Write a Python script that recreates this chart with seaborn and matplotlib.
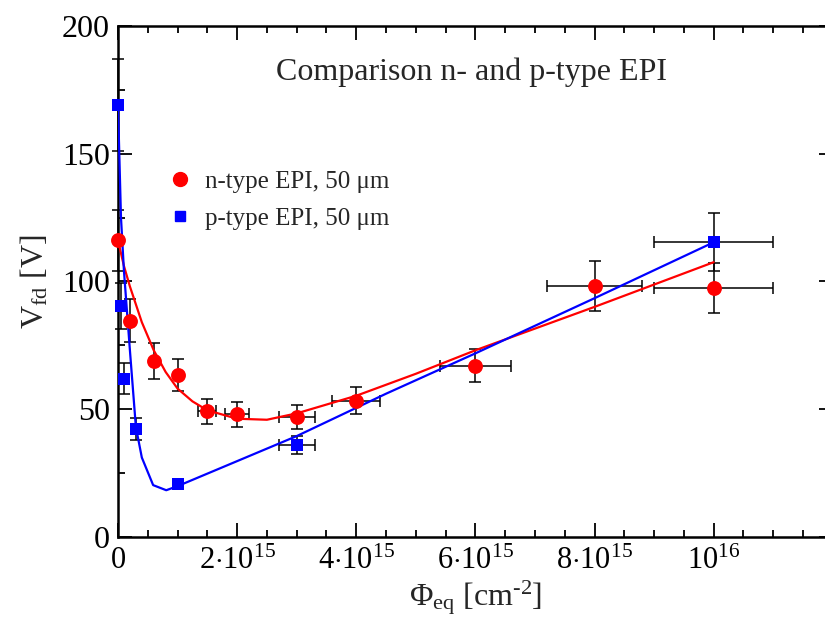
import numpy as np
import pandas as pd
import matplotlib
matplotlib.use("Agg")
import matplotlib.pyplot as plt
from matplotlib.lines import Line2D
from matplotlib.ticker import MultipleLocator, FixedLocator
import seaborn as sns

# ---------------- data (x in units of 1e15 cm^-2) ----------------
n_x = [0, 0.2, 0.6, 1.0, 1.5, 2.0, 3.0, 4.0, 6.0, 8.0, 10.0]
n_y = [116, 84.6, 68.8, 63.3, 49.2, 47.9, 46.8, 53.3, 67.0, 98.2, 97.3]
n_yerr = [12, 8.5, 7.0, 6.2, 4.9, 4.8, 4.7, 5.4, 6.6, 9.8, 9.8]
n_xerr = [0, 0, 0, 0, 0.15, 0.2, 0.3, 0.4, 0.6, 0.8, 1.0]

p_x = [0, 0.05, 0.1, 0.3, 1.0, 3.0, 10.0]
p_y = [169, 90.5, 61.9, 42.0, 20.6, 35.9, 115.3]
p_yerr = [18, 9.0, 6.1, 4.3, 1.5, 3.6, 11.4]
p_xerr = [0, 0, 0, 0, 0, 0.3, 1.0]

n_fit_x = [0, 0.1, 0.2, 0.4, 0.6, 0.8, 1.0, 1.25, 1.5, 2.0, 2.5, 3.0, 4.0, 5.0, 6.0, 8.0, 10.0]
n_fit_y = [116, 106, 98, 84, 73, 64.5, 58, 53, 49.5, 46.2, 45.8, 48.3, 55.2, 63.8, 73.0, 90.0, 107.5]

p_fit_x = [0, 0.05, 0.1, 0.2, 0.3, 0.4, 0.59, 0.81, 1.0, 3.0, 4.5, 6.0, 8.0, 10.0]
p_fit_y = [169, 125, 104, 73, 43, 31, 20.2, 18.2, 19.8, 39.4, 56.0, 71.8, 93.4, 115.3]

x_ticks = [0, 2, 4, 6, 8, 10]
x_ticklabels = ["0", r"$2{\cdot}10^{15}$", r"$4{\cdot}10^{15}$", r"$6{\cdot}10^{15}$",
                r"$8{\cdot}10^{15}$", r"$10^{16}$"]
y_ticks = [0, 50, 100, 150, 200]

title = "Comparison n- and p-type EPI"
label_n = "n-type EPI, 50 μm"
label_p = "p-type EPI, 50 μm"
SCALE = 1e15

# ---------------- style ----------------
sns.set_style("ticks")
plt.rcParams["font.family"] = ["Liberation Serif", "DejaVu Serif"]
plt.rcParams["mathtext.fontset"] = "custom"
plt.rcParams["mathtext.rm"] = "Liberation Serif"
plt.rcParams["mathtext.it"] = "Liberation Serif:italic"
plt.rcParams["mathtext.bf"] = "Liberation Serif:bold"

fig = plt.figure(figsize=(8.25, 6.19), dpi=100)
W, H = 825, 619
ax = fig.add_axes([118 / W, 82.3 / H, (832.8 - 118) / W, 510.7 / H])

df_n = pd.DataFrame({"x": np.array(n_x) * SCALE, "y": n_y})
df_p = pd.DataFrame({"x": np.array(p_x) * SCALE, "y": p_y})
fit_n = pd.DataFrame({"x": np.array(n_fit_x) * SCALE, "y": n_fit_y})
fit_p = pd.DataFrame({"x": np.array(p_fit_x) * SCALE, "y": p_fit_y})

# error bars
ax.errorbar(df_n["x"], df_n["y"], yerr=n_yerr, xerr=np.array(n_xerr) * SCALE,
            fmt="none", ecolor="black", elinewidth=1.1, capsize=4, capthick=1.1,
            zorder=2, clip_on=False)
ax.errorbar(df_p["x"], df_p["y"], yerr=p_yerr, xerr=np.array(p_xerr) * SCALE,
            fmt="none", ecolor="black", elinewidth=1.1, capsize=4, capthick=1.1,
            zorder=2, clip_on=False)

# fit curves
sns.lineplot(data=fit_n, x="x", y="y", sort=False, estimator=None, color="#ff0000",
             linewidth=1.6, ax=ax, zorder=3)
sns.lineplot(data=fit_p, x="x", y="y", sort=False, estimator=None, color="#0000ff",
             linewidth=1.6, ax=ax, zorder=3)

# markers
sns.scatterplot(data=df_n, x="x", y="y", marker="o", s=115, color="#ff0000",
                edgecolor="#ff0000", linewidth=0, ax=ax, zorder=4, clip_on=False)
sns.scatterplot(data=df_p, x="x", y="y", marker="s", s=75, color="#0000ff",
                edgecolor="#0000ff", linewidth=0, ax=ax, zorder=4, clip_on=False)

ax.set_xlim(0, 12 * SCALE)
ax.set_ylim(0, 200)

ax.xaxis.set_major_locator(FixedLocator(np.array(x_ticks) * SCALE))
ax.set_xticklabels(x_ticklabels)
ax.xaxis.set_minor_locator(MultipleLocator(0.5 * SCALE))
ax.yaxis.set_major_locator(FixedLocator(y_ticks))
ax.yaxis.set_minor_locator(MultipleLocator(25))

ax.tick_params(which="both", direction="in", top=True, right=True, width=1.3, colors="black")
ax.tick_params(which="major", length=10, labelsize=23, pad=6)
ax.tick_params(which="minor", length=5)
ax.tick_params(axis="x", which="major", pad=7, labelsize=22)
for s in ax.spines.values():
    s.set_linewidth(1.8)
    s.set_color("black")

ax.set_xlabel(r"Φ$_{\rm eq}$ [cm$^{\text{-}2}$]", fontsize=23, labelpad=2)
ax.set_ylabel(r"V$_{\rm fd}$ [V]", fontsize=23, labelpad=8)

fig.text(471 / W, 1 - 72 / H, title, fontsize=23, ha="center", va="center")

handles = [
    Line2D([], [], marker="o", color="#ff0000", linestyle="none", markersize=10),
    Line2D([], [], marker="s", color="#0000ff", linestyle="none", markersize=7.5),
]
ax.legend(handles, [label_n, label_p], loc="upper left",
          bbox_to_anchor=(167.5 / W, 1 - 170.5 / H), bbox_transform=fig.transFigure,
          frameon=False, fontsize=18, handlelength=1.0, handletextpad=0.5,
          labelspacing=0.57, borderpad=0, borderaxespad=0)

fig.savefig("out.png", dpi=100)
